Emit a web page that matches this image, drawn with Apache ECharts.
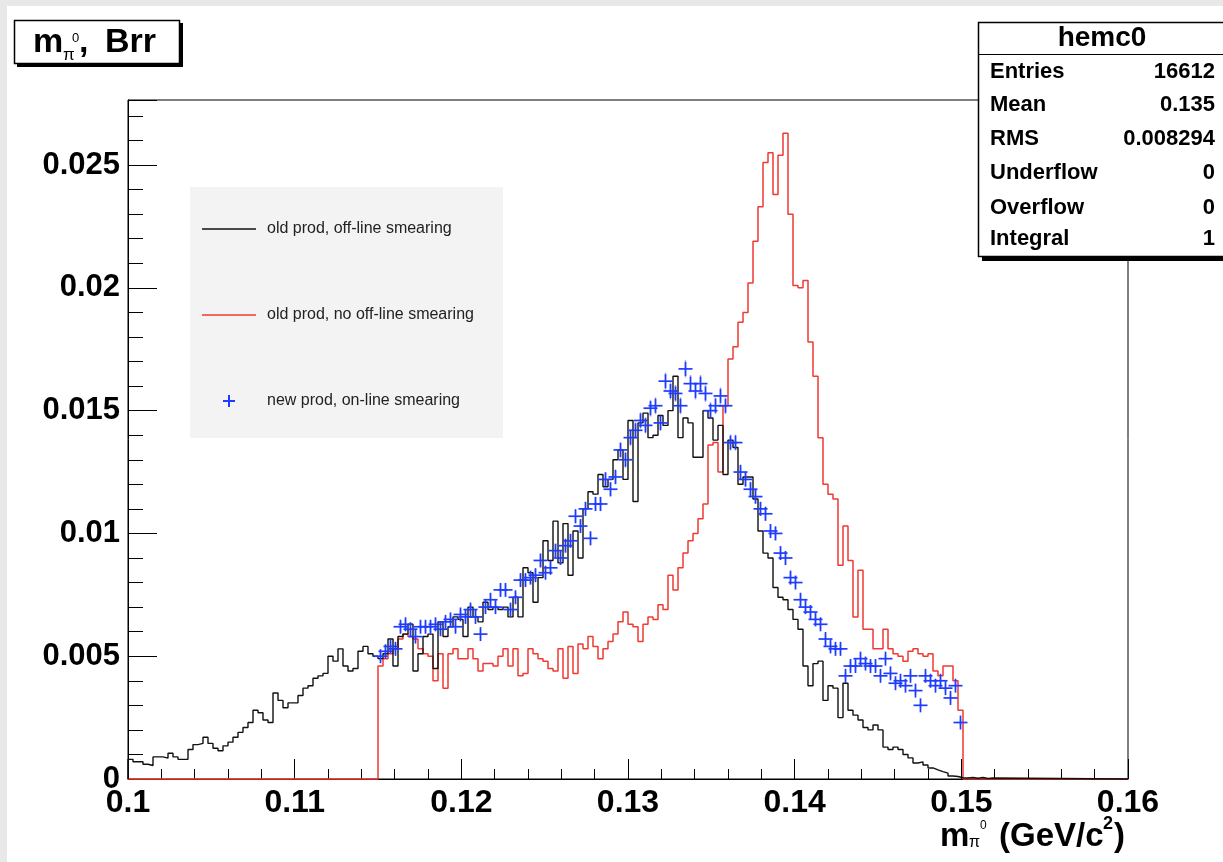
<!DOCTYPE html>
<html>
<head>
<meta charset="utf-8">
<title>m_pi0, Brr</title>
<script src="https://cdn.jsdelivr.net/npm/echarts@6/dist/echarts.min.js"></script>
<style>
  html, body { margin: 0; padding: 0; background: #ffffff; }
  #chart { width: 1223px; height: 862px; }
</style>
</head>
<body>
<div id="chart"></div>
<script>
// ---- histogram binning ----
const BIN_WIDTH = 0.0003;
const X_MIN = 0.1, X_MAX = 0.16;
const Y_MAX = 0.02765;

// ---- tick labels ----
const xTickValues = [0.1, 0.11, 0.12, 0.13, 0.14, 0.15, 0.16];
const xTickLabels = ['0.1', '0.11', '0.12', '0.13', '0.14', '0.15', '0.16'];
const yTickValues = [0, 0.005, 0.01, 0.015, 0.02, 0.025];
const yTickLabels = ['0', '0.005', '0.01', '0.015', '0.02', '0.025'];

// ---- series names ----
const seriesNames = ['old prod, off-line smearing', 'old prod, no off-line smearing', 'new prod, on-line smearing'];

// ---- old prod, off-line smearing (black), bins from 0.1 ----
const blackFirstEdge = 0.1;
const blackValues = [
  0.0008, 0.0007, 0.0007, 0.0006, 0.00055, 0.0009, 0.0009, 0.00085, 0.00105, 0.0009,
  0.0008, 0.0008, 0.0012, 0.0014, 0.00145, 0.0017, 0.00145, 0.00125, 0.00115, 0.00135,
  0.0015, 0.0017, 0.0019, 0.0021, 0.0023, 0.0028, 0.0027, 0.0024, 0.0023, 0.0035,
  0.0032, 0.0029, 0.0031, 0.0031, 0.0034, 0.0037, 0.0038, 0.0041, 0.0042, 0.0043,
  0.0050, 0.0048, 0.0053, 0.0046, 0.0044, 0.0045, 0.0052, 0.0054, 0.0051, 0.0050,
  0.0049, 0.0051, 0.0057, 0.0046, 0.0058, 0.0059, 0.0063, 0.0044, 0.0051, 0.0058,
  0.0059, 0.0045, 0.0064, 0.0058, 0.0062, 0.0066, 0.0065, 0.0058, 0.0070, 0.0066,
  0.0064, 0.0072, 0.0069, 0.0070, 0.0069, 0.0070, 0.0066, 0.0074, 0.0066, 0.0086,
  0.0084, 0.0072, 0.0082, 0.0097, 0.0089, 0.0105, 0.0088, 0.0104, 0.0083, 0.0101,
  0.0090, 0.0110, 0.0117, 0.0116, 0.0124, 0.0119, 0.0122, 0.0130, 0.0134, 0.0122,
  0.0146, 0.0113, 0.0145, 0.0149, 0.0139, 0.0140, 0.0148, 0.0144, 0.0150, 0.0164,
  0.0139, 0.0147, 0.0145, 0.0131, 0.0131, 0.0150, 0.0147, 0.0138, 0.0144, 0.0124,
  0.0138, 0.0135, 0.0120, 0.0123, 0.0123, 0.0114, 0.0101, 0.0092, 0.0090, 0.0078,
  0.0074, 0.0073, 0.0069, 0.0065, 0.0061, 0.0046, 0.0038, 0.0047, 0.0048, 0.0032,
  0.0038, 0.0037, 0.0025, 0.0039, 0.0028, 0.0026, 0.0024, 0.0021, 0.0020, 0.0022,
  0.0020, 0.0013, 0.0012, 0.0013, 0.0012, 0.0010, 0.00086, 0.00065, 0.0007, 0.00057,
  0.00045, 0.00037, 0.0003, 0.00024, 0.00012, 0.0001, 0.00005, 0.00004, 0.00006, 0.00003,
  0.00006, 0.00002, 0.00004
];

// ---- old prod, no off-line smearing (red), bins from 0.115 ----
const redFirstEdge = 0.115;
const redValues = [
  0.0046, 0.0049, 0.0051, 0.0053, 0.0057, 0.0059, 0.0058, 0.0057, 0.0053, 0.0051,
  0.0050, 0.0040, 0.0051, 0.0037, 0.0051, 0.0053, 0.0049, 0.0049, 0.0053, 0.0049,
  0.0044, 0.0047, 0.0047, 0.0046, 0.0050, 0.0053, 0.0046, 0.0053, 0.0042, 0.0043,
  0.0053, 0.0051, 0.0049, 0.0048, 0.0045, 0.0044, 0.0053, 0.0041, 0.0054, 0.0043,
  0.0055, 0.0053, 0.0058, 0.0054, 0.0049, 0.0053, 0.0056, 0.0059, 0.0064, 0.0068,
  0.0063, 0.0062, 0.0056, 0.0063, 0.0066, 0.0065, 0.0071, 0.0069, 0.0083, 0.0077,
  0.0086, 0.0092, 0.0097, 0.0100, 0.0106, 0.0112, 0.0136, 0.0137, 0.0125, 0.0152,
  0.0171, 0.0176, 0.0186, 0.0190, 0.0202, 0.0219, 0.0233, 0.0251, 0.0255, 0.0238,
  0.0254, 0.0263, 0.0230, 0.0201, 0.0200, 0.0203, 0.0178, 0.0164, 0.0139, 0.0120,
  0.0116, 0.0114, 0.0087, 0.0103, 0.0089, 0.0066, 0.0085, 0.0061, 0.0061, 0.0053,
  0.0053, 0.0061, 0.0053, 0.0051, 0.0050, 0.0048, 0.0052, 0.0053, 0.0051, 0.0050,
  0.0051, 0.0044, 0.0042, 0.0046, 0.0046, 0.0040, 0.0028
];

// ---- new prod, on-line smearing (blue points), bins from 0.115 ----
const blueFirstEdge = 0.115;
const blueValues = [
  0.0050, 0.0052, 0.0054, 0.0053, 0.0062, 0.0063, 0.0061, 0.0058, 0.0062, 0.0062,
  0.0062, 0.0063, 0.0061, 0.0064, 0.0065, 0.0062, 0.0067, 0.0066, 0.0069, 0.0066,
  0.0059, 0.0070, 0.0073, 0.0070, 0.0077, 0.0077, 0.0069, 0.0074, 0.0081, 0.0081,
  0.0082, 0.0083, 0.0089, 0.0084, 0.0086, 0.0093, 0.0090, 0.0095, 0.0097, 0.0107,
  0.0103, 0.0110, 0.0098, 0.0112, 0.0112, 0.0122, 0.0118, 0.0123, 0.0134, 0.0130,
  0.0139, 0.0142, 0.0146, 0.0144, 0.0151, 0.0152, 0.0145, 0.0162, 0.0158, 0.0157,
  0.0152, 0.0167, 0.0161, 0.0158, 0.0161, 0.0157, 0.0150, 0.0152, 0.0156, 0.0152,
  0.0137, 0.0137, 0.0125, 0.0122, 0.0118, 0.0115, 0.0110, 0.0108, 0.0101, 0.0100,
  0.0092, 0.0090, 0.0082, 0.0080, 0.0073, 0.0070, 0.0068, 0.0065, 0.0063, 0.0057,
  0.0054, 0.0053, 0.0053, 0.0042, 0.0046, 0.0046, 0.0049, 0.0047, 0.0046, 0.0046,
  0.0042, 0.0049, 0.0043, 0.0039, 0.0040, 0.0038, 0.0042, 0.0036, 0.0030, 0.0042,
  0.0040, 0.0038, 0.0040, 0.0037, 0.0033, 0.0038, 0.0023
];
// entries of the new production sample, for the per-bin statistical error
const BLUE_ENTRIES = 130000;

// ---- statistics box ----
const statsTitle = 'hemc0';
const statsLabels = ['Entries', 'Mean', 'RMS', 'Underflow', 'Overflow', 'Integral'];
const statsValues = ['16612', '0.135', '0.008294', '0', '0', '1'];

// ---- styling ----
const FONT = '"Liberation Sans", Arial, Helvetica, sans-serif';
const BLACK = '#111111';
const RED = '#f03a32';
const BLUE = '#1e3cff';
const GRID = { left: 128, top: 100, width: 1000, height: 679 };

// step outline of a histogram: zero outside, flat tops across each bin
function histOutline(firstEdge, values) {
  const pts = [[X_MIN, 0], [firstEdge, 0]];
  values.forEach((v, i) => {
    const lo = firstEdge + i * BIN_WIDTH;
    pts.push([lo, v], [lo + BIN_WIDTH, v]);
  });
  const end = firstEdge + values.length * BIN_WIDTH;
  pts.push([end, 0], [X_MAX, 0]);
  return pts;
}

const bluePoints = blueValues.map((v, i) => [
  blueFirstEdge + (i + 0.5) * BIN_WIDTH,
  v,
  Math.sqrt(v / BLUE_ENTRIES)
]);

function tickLabel(values, labels) {
  return function (v) {
    for (let i = 0; i < values.length; i++) {
      if (Math.abs(v - values[i]) < 1e-9) return labels[i];
    }
    return '';
  };
}

const PLUS_ICON = 'path://M5,0h2v5h5v2h-5v5h-2v-5h-5v-2h5z';
const LINE_ICON = 'path://M0,0h54v1.5h-54z';

const chart = echarts.init(document.getElementById('chart'));

function txt(x, y, s, font, align) {
  return {
    type: 'text', z: 101, x: x, y: y,
    style: { text: s, font: font, fill: '#000', textAlign: align || 'left', textVerticalAlign: 'middle' }
  };
}

// stats box rows
const statsGraphics = [];
const statsRowY = [72, 105, 139, 173, 208, 239];
statsLabels.forEach((lab, i) => {
  statsGraphics.push(txt(990, statsRowY[i], lab, 'bold 22px ' + FONT, 'left'));
  statsGraphics.push(txt(1215, statsRowY[i], statsValues[i], 'bold 22px ' + FONT, 'right'));
});

const option = {
  animation: false,
  backgroundColor: '#ffffff',
  grid: {
    left: GRID.left, top: GRID.top, width: GRID.width, height: GRID.height,
    outerBoundsMode: 'none', containLabel: false,
    show: true, borderColor: '#000', borderWidth: 1, backgroundColor: 'transparent'
  },
  legend: {
    orient: 'vertical',
    left: 197, top: 216,
    itemWidth: 54, itemHeight: 12, itemGap: 70,
    selectedMode: false,
    textStyle: { fontFamily: FONT, fontSize: 16, color: '#222', padding: [0, 0, 0, 6] },
    data: [
      { name: seriesNames[0], icon: LINE_ICON },
      { name: seriesNames[1], icon: LINE_ICON },
      { name: seriesNames[2], icon: PLUS_ICON }
    ],
    z: 20
  },
  xAxis: [{
    type: 'value', min: X_MIN, max: X_MAX, interval: 0.01,
    axisLine: { show: true, lineStyle: { color: '#000', width: 1 } },
    axisTick: { show: true, inside: true, length: 20, lineStyle: { color: '#000', width: 1 } },
    minorTick: { show: true, splitNumber: 5, length: 10, lineStyle: { color: '#000', width: 1 } },
    splitLine: { show: false },
    axisLabel: {
      margin: 8, color: '#000', fontFamily: FONT, fontSize: 32, fontWeight: 'bold',
      formatter: tickLabel(xTickValues, xTickLabels)
    }
  }],
  yAxis: [{
    type: 'value', min: 0, max: Y_MAX, interval: 0.005,
    axisLine: { show: true, lineStyle: { color: '#000', width: 1 } },
    axisTick: { show: true, inside: true, length: 29, lineStyle: { color: '#000', width: 1 } },
    splitLine: { show: false },
    axisLabel: {
      margin: 8, color: '#000', fontFamily: FONT, fontSize: 31, fontWeight: 'bold',
      formatter: tickLabel(yTickValues, yTickLabels)
    }
  }, {
    // finer divisions on the same scale
    type: 'value', min: 0, max: Y_MAX, interval: 0.001, position: 'left', offset: 0,
    axisLine: { show: false },
    axisTick: { show: true, inside: true, length: 15, lineStyle: { color: '#000', width: 1 } },
    splitLine: { show: false },
    axisLabel: { show: false }
  }],
  series: [
    {
      name: seriesNames[1], type: 'line', xAxisIndex: 0, yAxisIndex: 0,
      data: histOutline(redFirstEdge, redValues),
      symbol: 'none', clip: false, z: 3,
      color: RED, lineStyle: { color: RED, width: 1.5 }
    },
    {
      name: seriesNames[0], type: 'line', xAxisIndex: 0, yAxisIndex: 0,
      data: histOutline(blackFirstEdge, blackValues),
      symbol: 'none', clip: false, z: 4,
      color: BLACK, lineStyle: { color: BLACK, width: 1.4 }
    },
    {
      name: seriesNames[2], type: 'custom', xAxisIndex: 0, yAxisIndex: 0,
      data: bluePoints, z: 5,
      itemStyle: { color: BLUE },
      renderItem: function (params, api) {
        const x = api.value(0), y = api.value(1), e = api.value(2);
        const c = api.coord([x, y]);
        const hi = api.coord([x, y + e]);
        const lo = api.coord([x, y - e]);
        const arm = 7;
        return {
          type: 'group',
          children: [
            { type: 'line', shape: { x1: c[0], y1: hi[1], x2: c[0], y2: lo[1] },
              style: { stroke: BLUE, lineWidth: 1.4, opacity: 0.45 } },
            { type: 'line', shape: { x1: c[0] - arm, y1: c[1], x2: c[0] + arm, y2: c[1] },
              style: { stroke: BLUE, lineWidth: 1.7 } },
            { type: 'line', shape: { x1: c[0], y1: c[1] - arm, x2: c[0], y2: c[1] + arm },
              style: { stroke: BLUE, lineWidth: 1.7 } }
          ]
        };
      }
    }
  ],
  graphic: [
    // page margin
    { type: 'rect', z: 0, shape: { x: 0, y: 0, width: 7, height: 862 }, style: { fill: '#e8e8e8' } },
    { type: 'rect', z: 0, shape: { x: 0, y: 0, width: 1223, height: 6 }, style: { fill: '#e8e8e8' } },
    // legend panel
    { type: 'rect', z: 1, shape: { x: 190, y: 187, width: 313, height: 251 }, style: { fill: '#f3f3f3' } },
    // title box with shadow
    { type: 'rect', z: 100, shape: { x: 17, y: 23, width: 166, height: 44 }, style: { fill: '#000' } },
    { type: 'rect', z: 100, shape: { x: 14.5, y: 20.5, width: 165, height: 43 }, style: { fill: '#fff', stroke: '#000', lineWidth: 1.5 } },
    txt(33, 43, 'm', 'bold 34px ' + FONT),
    txt(63, 55, 'π', '17px ' + FONT),
    txt(72, 38, '0', '13px ' + FONT),
    txt(79, 43, ',', 'bold 34px ' + FONT),
    txt(105, 43, 'Brr', 'bold 34px ' + FONT),
    // x-axis title, right-aligned to the frame
    txt(940, 837, 'm', 'bold 33px ' + FONT),
    txt(969, 843, 'π', '16px ' + FONT),
    txt(980, 826, '0', '12px ' + FONT),
    txt(999, 837, '(GeV/c', 'bold 33px ' + FONT),
    txt(1103, 824, '2', 'bold 18px ' + FONT),
    txt(1114, 837, ')', 'bold 33px ' + FONT),
    // statistics box with shadow
    { type: 'rect', z: 100, shape: { x: 982, y: 26, width: 245, height: 235 }, style: { fill: '#000' } },
    { type: 'rect', z: 100, shape: { x: 978.5, y: 22.5, width: 250, height: 234 }, style: { fill: '#fff', stroke: '#000', lineWidth: 1.5 } },
    { type: 'line', z: 101, shape: { x1: 978, y1: 54.5, x2: 1223, y2: 54.5 }, style: { stroke: '#000', lineWidth: 1.2 } },
    txt(1102, 38, statsTitle, 'bold 28px ' + FONT, 'center')
  ].concat(statsGraphics)
};

chart.setOption(option);
</script>
</body>
</html>
